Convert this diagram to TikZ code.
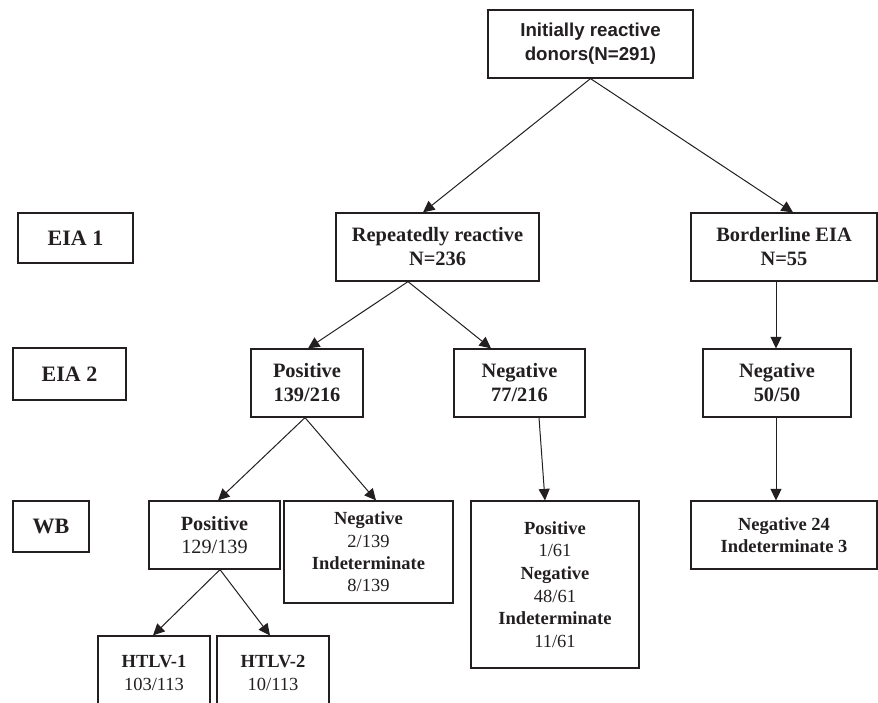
\documentclass[tikz,border=0pt]{standalone}
\usepackage{fontspec}
\setmainfont{Liberation Serif}
\newfontfamily\sansbf{Liberation Sans}[BoldFont={Liberation Sans Bold}]
\usetikzlibrary{arrows.meta}
\definecolor{ink}{HTML}{231F20}
\tikzset{
  box/.style={draw=ink, line width=1.2pt, inner sep=0pt, text=ink, align=center},
  big/.style={font=\fontsize{20.4}{24}\selectfont\bfseries},
  mid/.style={font=\fontsize{18.5}{22.4}\selectfont},
  lab/.style={font=\fontsize{22}{26}\selectfont\bfseries},
  conn/.style={draw=ink, line width=1pt, -{Triangle[length=11.5pt,width=11pt]}}
}
\begin{document}
\begin{tikzpicture}[x=1pt,y=-1pt]
\useasboundingbox (0,0) rectangle (878,702);
\clip (0,0) rectangle (878,702);
% nodes
\node[box, minimum width=205, minimum height=68, font=\fontsize{18.7}{24}\selectfont\sansbf\bfseries] (top) at (590.5,44) {Initially reactive\\donors(N=291)};
\node[box, big, minimum width=203, minimum height=68] (rep) at (437.5,247) {Repeatedly reactive\\N=236};
\node[box, big, minimum width=186, minimum height=68] (bord) at (784,247) {Borderline EIA\\N=55};
\node[box, lab, minimum width=115, minimum height=50] (eia1) at (75.5,238) {EIA 1};
\node[box, lab, minimum width=113, minimum height=52] (eia2) at (69.5,374) {EIA 2};
\node[box, lab, minimum width=76, minimum height=51] (wb) at (51,526.5) {WB};
\node[box, big, minimum width=112, minimum height=68] (pos1) at (307,383) {Positive\\139/216};
\node[box, big, minimum width=131, minimum height=68] (neg1) at (519.5,383) {Negative\\77/216};
\node[box, big, minimum width=148, minimum height=68] (neg50) at (777,383) {Negative\\50/50};
\node[box, font=\fontsize{20.2}{23.5}\selectfont, minimum width=131, minimum height=68] (pos2) at (214.5,535) {\textbf{Positive}\\129/139};
\node[box, mid, minimum width=169, minimum height=102] (neg2) at (368.5,552) {\textbf{Negative}\\2/139\\\textbf{Indeterminate}\\8/139};
\node[box, font=\fontsize{18.5}{22.6}\selectfont, minimum width=168, minimum height=167] (pos61) at (555,584.5) {\textbf{Positive}\\1/61\\\textbf{Negative}\\48/61\\\textbf{Indeterminate}\\11/61};
\node[box, font=\fontsize{18.5}{22}\selectfont\bfseries, minimum width=186, minimum height=68] (neg24) at (784,535) {Negative 24\\Indeterminate 3};
\node[box, mid, minimum width=112, minimum height=74] (htlv1) at (154,673) {\textbf{HTLV-1}\\103/113};
\node[box, mid, minimum width=112, minimum height=74] (htlv2) at (273,673) {\textbf{HTLV-2}\\10/113};
% connectors
\draw[conn] (top.south) -- ([xshift=-14.5]rep.north);
\draw[conn] (top.south) -- ([xshift=9]bord.north);
\draw[conn] ([xshift=-29.5]rep.south) -- ([xshift=1]pos1.north);
\draw[conn] ([xshift=-29.5]rep.south) -- ([xshift=-28.5]neg1.north);
\draw[conn] ([xshift=-8]bord.south) -- ([xshift=-1]neg50.north);
\draw[conn] ([xshift=-1]neg50.south) -- ([xshift=-8]neg24.north);
\draw[conn] ([xshift=19.5]neg1.south) -- ([xshift=-10]pos61.north);
\draw[conn] ([xshift=-2]pos1.south) -- ([xshift=3.5]pos2.north);
\draw[conn] ([xshift=-2]pos1.south) -- ([xshift=7.5]neg2.north);
\draw[conn] ([xshift=5.5]pos2.south) -- ([xshift=-1]htlv1.north);
\draw[conn] ([xshift=5.5]pos2.south) -- ([xshift=-3]htlv2.north);
\end{tikzpicture}
\end{document}
